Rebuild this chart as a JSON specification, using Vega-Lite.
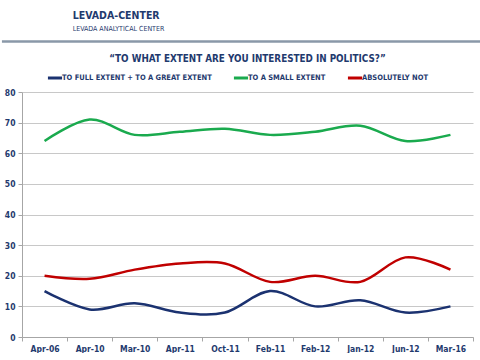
{
  "$schema": "https://vega.github.io/schema/vega-lite/v6.json",
  "padding": {"top": 10, "left": 0, "right": 0, "bottom": 0},
  "spacing": 11,
  "columns": 1,
  "align": "none",
  "config": {
    "font": "Liberation Sans Narrow, DejaVu Sans Condensed, Liberation Sans",
    "view": {"stroke": null}
  },
  "datasets": {
    "survey": [
      {"period": "Apr-06", "series": "TO FULL EXTENT + TO A GREAT EXTENT", "value": 15},
      {"period": "Apr-10", "series": "TO FULL EXTENT + TO A GREAT EXTENT", "value": 9},
      {"period": "Mar-10", "series": "TO FULL EXTENT + TO A GREAT EXTENT", "value": 11},
      {"period": "Apr-11", "series": "TO FULL EXTENT + TO A GREAT EXTENT", "value": 8},
      {"period": "Oct-11", "series": "TO FULL EXTENT + TO A GREAT EXTENT", "value": 8},
      {"period": "Feb-11", "series": "TO FULL EXTENT + TO A GREAT EXTENT", "value": 15},
      {"period": "Feb-12", "series": "TO FULL EXTENT + TO A GREAT EXTENT", "value": 10},
      {"period": "Jan-12", "series": "TO FULL EXTENT + TO A GREAT EXTENT", "value": 12},
      {"period": "Jun-12", "series": "TO FULL EXTENT + TO A GREAT EXTENT", "value": 8},
      {"period": "Mar-16", "series": "TO FULL EXTENT + TO A GREAT EXTENT", "value": 10},
      {"period": "Apr-06", "series": "TO A SMALL EXTENT", "value": 64},
      {"period": "Apr-10", "series": "TO A SMALL EXTENT", "value": 71},
      {"period": "Mar-10", "series": "TO A SMALL EXTENT", "value": 66},
      {"period": "Apr-11", "series": "TO A SMALL EXTENT", "value": 67},
      {"period": "Oct-11", "series": "TO A SMALL EXTENT", "value": 68},
      {"period": "Feb-11", "series": "TO A SMALL EXTENT", "value": 66},
      {"period": "Feb-12", "series": "TO A SMALL EXTENT", "value": 67},
      {"period": "Jan-12", "series": "TO A SMALL EXTENT", "value": 69},
      {"period": "Jun-12", "series": "TO A SMALL EXTENT", "value": 64},
      {"period": "Mar-16", "series": "TO A SMALL EXTENT", "value": 66},
      {"period": "Apr-06", "series": "ABSOLUTELY NOT", "value": 20},
      {"period": "Apr-10", "series": "ABSOLUTELY NOT", "value": 19},
      {"period": "Mar-10", "series": "ABSOLUTELY NOT", "value": 22},
      {"period": "Apr-11", "series": "ABSOLUTELY NOT", "value": 24},
      {"period": "Oct-11", "series": "ABSOLUTELY NOT", "value": 24},
      {"period": "Feb-11", "series": "ABSOLUTELY NOT", "value": 18},
      {"period": "Feb-12", "series": "ABSOLUTELY NOT", "value": 20},
      {"period": "Jan-12", "series": "ABSOLUTELY NOT", "value": 18},
      {"period": "Jun-12", "series": "ABSOLUTELY NOT", "value": 26},
      {"period": "Mar-16", "series": "ABSOLUTELY NOT", "value": 22}
    ],
    "divider": [{"start": 0, "end": 1}]
  },
  "concat": [
    {
      "width": 460,
      "height": 1,
      "title": {
        "text": "LEVADA-CENTER",
        "subtitle": "LEVADA ANALYTICAL CENTER",
        "anchor": "start",
        "dx": 72,
        "offset": 8,
        "fontSize": 10.5,
        "fontWeight": "bold",
        "color": "#1f3a6e",
        "subtitleFontSize": 7,
        "subtitleColor": "#1f3a6e",
        "subtitlePadding": 4
      },
      "data": {"name": "divider"},
      "mark": {"type": "rule", "color": "#8a98a8", "strokeWidth": 2.5},
      "encoding": {
        "x": {"field": "start", "type": "quantitative", "scale": {"domain": [0.0418, 1], "zero": false, "nice": false}, "axis": null},
        "x2": {"field": "end"}
      }
    },
    {
      "width": 451,
      "height": 245,
      "title": {
        "text": "“TO WHAT EXTENT ARE YOU INTERESTED IN POLITICS?”",
        "anchor": "middle",
        "fontSize": 9.8,
        "fontWeight": "bold",
        "color": "#1f3a6e",
        "offset": 24
      },
      "data": {"name": "survey"},
      "mark": {"type": "line", "interpolate": "cardinal", "strokeWidth": 2.5},
      "encoding": {
        "x": {
          "field": "period",
          "type": "ordinal",
          "sort": ["Apr-06", "Apr-10", "Mar-10", "Apr-11", "Oct-11", "Feb-11", "Feb-12", "Jan-12", "Jun-12", "Mar-16"],
          "scale": {"type": "band", "paddingInner": 0, "paddingOuter": 0},
          "axis": {
            "title": null,
            "labelAngle": 0,
            "labelFontSize": 8.5,
            "labelFontWeight": "bold",
            "labelColor": "#1f3a6e",
            "labelPadding": 3,
            "tickBand": "extent",
            "tickSize": 4,
            "tickColor": "#a6a6a6",
            "domainColor": "#a6a6a6",
            "grid": false
          }
        },
        "y": {
          "field": "value",
          "type": "quantitative",
          "scale": {"domain": [0, 80]},
          "axis": {
            "title": null,
            "values": [0, 10, 20, 30, 40, 50, 60, 70, 80],
            "labelFontSize": 8.5,
            "labelFontWeight": "bold",
            "labelColor": "#1f3a6e",
            "labelPadding": 3,
            "tickSize": 4,
            "tickColor": "#a6a6a6",
            "domainColor": "#a6a6a6",
            "gridColor": "#c8c8c8",
            "gridWidth": 1
          }
        },
        "color": {
          "field": "series",
          "type": "nominal",
          "sort": ["TO FULL EXTENT + TO A GREAT EXTENT", "TO A SMALL EXTENT", "ABSOLUTELY NOT"],
          "scale": {
            "domain": ["TO FULL EXTENT + TO A GREAT EXTENT", "TO A SMALL EXTENT", "ABSOLUTELY NOT"],
            "range": ["#1b3270", "#1aaa4e", "#c00000"]
          },
          "legend": {
            "title": null,
            "orient": "none",
            "direction": "horizontal",
            "legendX": 24,
            "legendY": 28,
            "symbolType": "stroke",
            "symbolStrokeWidth": 3,
            "symbolSize": 200,
            "labelFontSize": 7.5,
            "labelFontWeight": "bold",
            "labelColor": "#1f3a6e",
            "labelOffset": -2,
            "columnPadding": 15,
            "labelLimit": 300
          }
        }
      }
    }
  ]
}
